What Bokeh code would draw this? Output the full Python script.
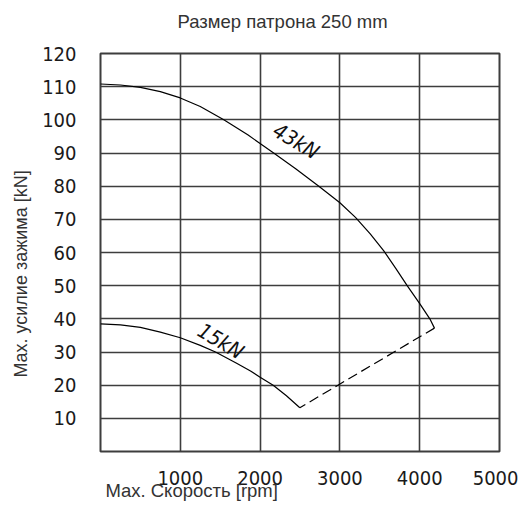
import math
from bokeh.plotting import figure
from bokeh.models import FixedTicker, Label, Title
from bokeh.embed import file_html
from bokeh.resources import INLINE

# ---- data ----
x_ticks = [1000, 2000, 3000, 4000, 5000]
y_ticks = [10, 20, 30, 40, 50, 60, 70, 80, 90, 100, 110, 120]

rpm_43 = [0, 250, 500, 750, 1000, 1250, 1545, 1850, 2170, 2450, 2736, 3000, 3195, 3380, 3550, 3700, 3843, 4000, 4127, 4185]
kn_43 = [110.8, 110.5, 109.8, 108.5, 106.6, 104.0, 100, 95.4, 90, 85.2, 80, 75, 70.6, 65.6, 60.5, 55.2, 50, 44.6, 40, 37.2]

rpm_15 = [0, 250, 500, 750, 1000, 1250, 1441, 1700, 1880, 2000, 2164, 2330, 2498]
kn_15 = [38.5, 38.2, 37.4, 36.0, 34.3, 32.0, 30, 26.7, 24.3, 22.4, 20, 16.8, 13.2]

rpm_link = [4185, 2498]
kn_link = [37.2, 13.2]

title_text = "Размер патрона 250 mm"
x_label = "Max. Скорость [rpm]"
y_label = "Max. усилие зажима [kN]"
curve_labels = ["43kN", "15kN"]
curve_label_pos = [(2450, 93.5), (1505, 33.2)]

GRID = "#3d3d3d"
TICK_FONT = "Liberation Sans Narrow, DejaVu Sans Condensed, Roboto Condensed, Liberation Sans"
TEXT_FONT = "Liberation Sans"

p = figure(
    frame_width=399, frame_height=398,
    x_range=(0, 5000), y_range=(0, 120),
    output_backend="svg", toolbar_location=None,
    min_border_left=100, min_border_top=53, min_border_right=19, min_border_bottom=50,
    background_fill_color="white", border_fill_color="white",
)
p.outline_line_color = GRID
p.outline_line_width = 2

p.xaxis.ticker = FixedTicker(ticks=x_ticks)
p.yaxis.ticker = FixedTicker(ticks=y_ticks)
for ax in (p.xaxis, p.yaxis):
    ax.axis_line_color = None
    ax.major_tick_line_color = None
    ax.minor_tick_line_color = None
    ax.major_label_text_font = TICK_FONT
    ax.major_label_text_font_size = "20px"
    ax.major_label_text_color = "#1a1a1a"
p.xaxis.major_label_standoff = 13
p.yaxis.major_label_standoff = 18

p.xgrid.ticker = FixedTicker(ticks=x_ticks)
p.ygrid.ticker = FixedTicker(ticks=y_ticks)
p.grid.grid_line_color = GRID
p.grid.grid_line_width = 1.6

p.line(rpm_43, kn_43, line_color="black", line_width=1.2)
p.line(rpm_15, kn_15, line_color="black", line_width=1.2)
p.line(rpm_link, kn_link, line_color="black", line_width=1.2, line_dash="10 5")

for txt, (lx, ly) in zip(curve_labels, curve_label_pos):
    p.add_layout(Label(x=lx, y=ly, text=txt, angle=-0.54,
                       text_align="center", text_baseline="middle",
                       text_font=TICK_FONT, text_font_style="italic",
                       text_font_size="21px", text_color="#111111"))

# trailing newline keeps an empty line between the title and the frame
p.add_layout(Title(text=title_text + "\n", align="left", offset=77,
                   text_font=TEXT_FONT, text_font_size="18.5px",
                   text_font_style="normal", text_color="#333333",
                   standoff=2), "above")
p.add_layout(Title(text=x_label, align="left", offset=5,
                   text_font=TEXT_FONT, text_font_size="18.5px",
                   text_font_style="normal", text_color="#333333",
                   standoff=-26), "below")
p.add_layout(Title(text=y_label, align="left", offset=74,
                   text_font=TEXT_FONT, text_font_size="18px",
                   text_font_style="normal", text_color="#333333",
                   standoff=17), "left")

open("out.html", "w").write(file_html(p, INLINE))
